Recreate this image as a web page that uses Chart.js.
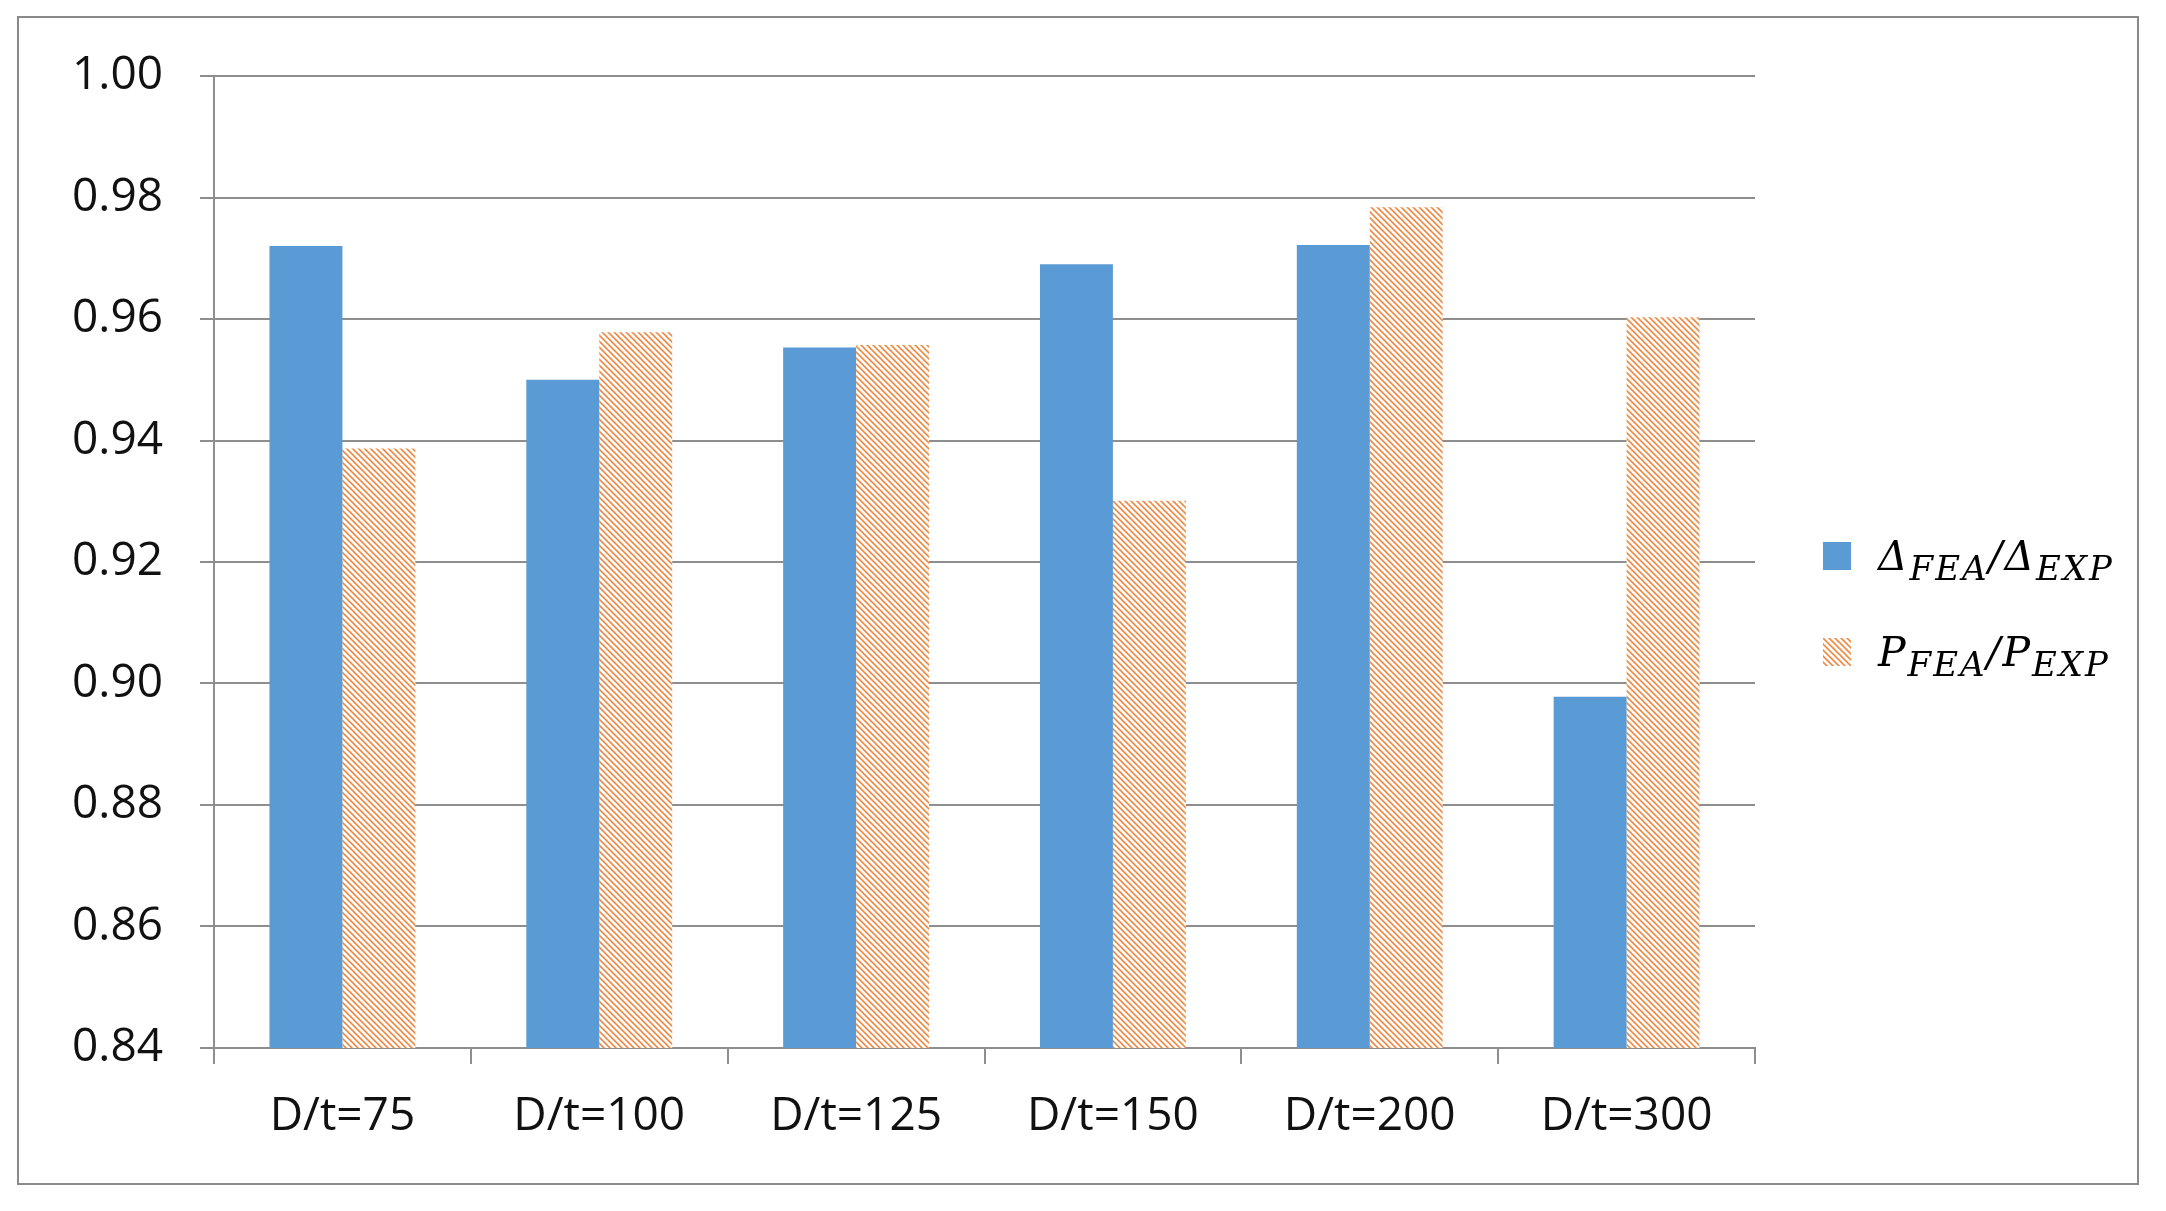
<!DOCTYPE html>
<html>
<head>
<meta charset="utf-8">
<script src="https://cdn.jsdelivr.net/npm/chart.js@4/dist/chart.umd.min.js"></script>
<style>
  html, body { margin: 0; padding: 0; background: #fff; }
  #wrap { position: relative; width: 2166px; height: 1211px; }
  #chart { position: absolute; left: 0; top: 0; }
  #legend { position: absolute; left: 1823px; top: 526px; font-family: "DejaVu Serif", serif; font-style: italic; color: #000; }
  #legend .row { display: flex; align-items: center; height: 60px; margin-bottom: 36px; white-space: nowrap; }
  #legend .box { width: 28px; height: 28px; margin-right: 27px; flex: none; }
  #legend .txt { font-size: 41px; letter-spacing: 2px; }
  #legend sub { font-size: 34px; vertical-align: -10px; line-height: 0; }
</style>
</head>
<body>
<div id="wrap">
  <canvas id="chart" width="2166" height="1211"></canvas>
  <div id="legend"></div>
</div>
<script>
// data
const categories = ["D/t=75", "D/t=100", "D/t=125", "D/t=150", "D/t=200", "D/t=300"];
const deltaRatio = [0.972, 0.950, 0.9553, 0.969, 0.9722, 0.8978];
const loadRatio = [0.9387, 0.9578, 0.9557, 0.9301, 0.9784, 0.9603];
const seriesNames = ["Δ_{FEA}/Δ_{EXP}", "P_{FEA}/P_{EXP}"];
const yTicks = [0.84, 0.86, 0.88, 0.90, 0.92, 0.94, 0.96, 0.98, 1.00];

const BLUE = "#5B9BD5";
const ORANGE = "#EE8A45";
const GRID = "#8e8e8e";

// hatch tile (downward diagonal)
function makeHatch() {
  const s = 6;
  const c = document.createElement("canvas");
  c.width = s; c.height = s;
  const g = c.getContext("2d");
  g.fillStyle = "#fff";
  g.fillRect(0, 0, s, s);
  g.strokeStyle = ORANGE;
  g.lineWidth = 1.6;
  [-s, 0, s].forEach(x0 => {
    g.beginPath();
    g.moveTo(x0 - 1, -1);
    g.lineTo(x0 + s + 1, s + 1);
    g.stroke();
  });
  return c;
}
const hatchTile = makeHatch();
const hatch = document.getElementById("chart").getContext("2d").createPattern(hatchTile, "repeat");

// frame round the whole picture
const framePlugin = {
  id: "frame",
  beforeDraw(chart) {
    const ctx = chart.ctx;
    ctx.save();
    ctx.fillStyle = "#fff";
    ctx.fillRect(0, 0, chart.width, chart.height);
    ctx.strokeStyle = "#8a8a8a";
    ctx.lineWidth = 2;
    ctx.strokeRect(18, 17, 2120, 1167);
    ctx.restore();
  }
};

function buildLegend(chart) {
  const box = document.getElementById("legend");
  box.innerHTML = "";
  chart.data.datasets.forEach((ds, i) => {
    const row = document.createElement("div");
    row.className = "row";
    const sw = document.createElement("div");
    sw.className = "box";
    if (i === 0) sw.style.background = BLUE;
    else sw.style.backgroundImage = "url(" + hatchTile.toDataURL() + ")";
    const txt = document.createElement("span");
    txt.className = "txt";
    txt.innerHTML = ds.label.replace(/_\{([^}]*)\}/g, "<sub>$1</sub>");
    row.appendChild(sw);
    row.appendChild(txt);
    box.appendChild(row);
  });
}

Chart.defaults.font.family = "'Open Sans', sans-serif";
Chart.defaults.color = "#111";

const chart = new Chart(document.getElementById("chart"), {
  type: "bar",
  data: {
    labels: categories,
    datasets: [
      { label: seriesNames[0], data: deltaRatio, backgroundColor: BLUE, borderWidth: 0 },
      { label: seriesNames[1], data: loadRatio, backgroundColor: hatch, borderWidth: 0 }
    ]
  },
  options: {
    responsive: false,
    animation: false,
    layout: { padding: { left: 30, right: 411, top: 76, bottom: 63 } },
    plugins: {
      legend: { display: false },
      tooltip: { enabled: false }
    },
    datasets: {
      bar: { categoryPercentage: 0.568, barPercentage: 1.0 }
    },
    scales: {
      x: {
        grid: { offset: true, drawOnChartArea: false, drawTicks: true, tickLength: 16, color: GRID, lineWidth: 2 },
        border: { display: true, color: GRID, width: 2 },
        ticks: { font: { size: 46 }, padding: 25, maxRotation: 0 },
        afterFit: s => { s.height = 100; }
      },
      y: {
        min: 0.84,
        max: 1.00,
        afterBuildTicks: s => { s.ticks = yTicks.map(v => ({ value: v })); },
        grid: { color: GRID, lineWidth: 2, tickLength: 14 },
        border: { display: true, color: GRID, width: 2 },
        ticks: { font: { size: 46 }, padding: 37, callback: v => v.toFixed(2) },
        afterFit: s => { s.width = 184; }
      }
    }
  },
  plugins: [framePlugin]
});

buildLegend(chart);
</script>
</body>
</html>
